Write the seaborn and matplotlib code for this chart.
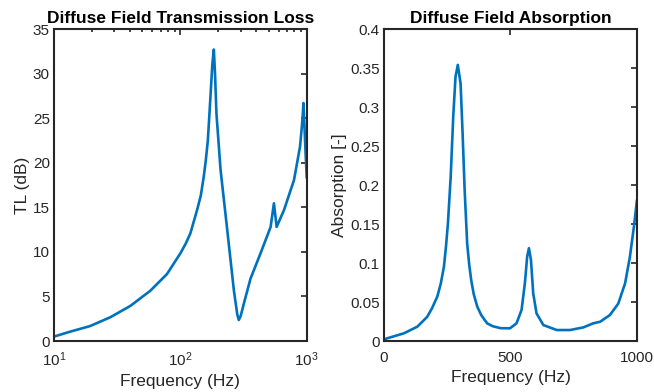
import numpy as np
import pandas as pd
import matplotlib
matplotlib.use("Agg")
import matplotlib.pyplot as plt
import seaborn as sns

# Transmission loss
tl_freq = [10, 13.4, 19.3, 27.8, 40.1, 57.8, 78.4, 100, 110, 120, 135.6, 145, 153,
           159, 165, 173, 179, 184, 188, 193, 208, 235, 265, 282, 290, 300, 318,
           359, 431, 518, 550, 578, 661, 793, 885, 925, 942, 960, 980, 1000]
tl_db = [0.5, 1.05, 1.68, 2.66, 3.93, 5.64, 7.52, 9.84, 10.9, 12.08, 14.7, 16.3, 18.4,
         20.3, 22.5, 27.4, 31.0, 32.7, 30.0, 25.5, 19.2, 12.45, 5.7, 3.0, 2.36, 2.8,
         4.2, 7.0, 9.84, 12.8, 15.45, 12.8, 14.7, 18.06, 21.8, 24.8, 26.7, 24.0, 21.0,
         18.3]

# Absorption
abs_freq = [0, 13, 79, 132, 171, 190, 211, 225, 237, 245, 253, 264, 274, 283, 292,
            303, 311, 319, 329, 337, 345, 355, 369, 385, 408, 430, 461, 498, 524,
            544, 557, 566, 573, 581, 590, 603, 630, 683, 735, 788, 827, 854, 893,
            926, 953, 972, 988, 1000]
abs_coef = [0.002, 0.0035, 0.0099, 0.0184, 0.031, 0.042, 0.057, 0.074, 0.095, 0.12,
            0.151, 0.211, 0.288, 0.339, 0.354, 0.330, 0.266, 0.194, 0.125, 0.098,
            0.078, 0.060, 0.044, 0.033, 0.0227, 0.019, 0.0165, 0.0163, 0.0227, 0.040,
            0.074, 0.108, 0.119, 0.104, 0.061, 0.0355, 0.0205, 0.0141, 0.0141, 0.0175,
            0.0227, 0.0247, 0.0333, 0.048, 0.074, 0.108, 0.147, 0.181]

sns.set_style("white")
plt.rcParams['font.family'] = ['Liberation Sans', 'DejaVu Sans']
plt.rcParams['mathtext.fontset'] = 'custom'
plt.rcParams['mathtext.rm'] = 'Liberation Sans'
dark = '#262626'
blue = '#0072BD'

fig = plt.figure(figsize=(6.54, 3.92), dpi=100)
ax1 = fig.add_axes([0.0826, 0.130, 0.3864, 0.796])
ax2 = fig.add_axes([0.587, 0.130, 0.387, 0.796])

df_tl = pd.DataFrame({'f': tl_freq, 'tl': tl_db})
df_abs = pd.DataFrame({'f': abs_freq, 'a': abs_coef})

sns.lineplot(data=df_tl, x='f', y='tl', ax=ax1, color=blue, linewidth=1.9, sort=False)
sns.lineplot(data=df_abs, x='f', y='a', ax=ax2, color=blue, linewidth=1.9, sort=False)

ax1.set_xscale('log')
ax1.set_xlim(10, 1000)
ax1.set_ylim(0, 35)
ax1.set_yticks(np.arange(0, 36, 5))
ax1.set_title('Diffuse Field Transmission Loss', fontsize=12.5, fontweight='bold',
              color='black', pad=4)
ax1.set_xlabel('Frequency (Hz)', fontsize=12.5, color=dark, labelpad=3)
ax1.set_ylabel('TL (dB)', fontsize=12.5, color=dark, labelpad=2)

ax2.set_xlim(0, 1000)
ax2.set_ylim(0, 0.4)
ax2.set_xticks([0, 500, 1000])
ax2.set_yticks(np.arange(0, 0.41, 0.05))
ax2.set_yticklabels(['0', '0.05', '0.1', '0.15', '0.2', '0.25', '0.3', '0.35', '0.4'])
ax2.set_title('Diffuse Field Absorption', fontsize=12.5, fontweight='bold',
              color='black', pad=4)
ax2.set_xlabel('Frequency (Hz)', fontsize=12.5, color=dark, labelpad=4)
ax2.set_ylabel('Absorption [-]', fontsize=12.5, color=dark, labelpad=2)

for ax in (ax1, ax2):
    for sp in ax.spines.values():
        sp.set_visible(True)
        sp.set_color(dark)
        sp.set_linewidth(1.5)
    ax.tick_params(which='both', direction='in', top=True, right=True,
                   color=dark, labelcolor=dark, labelsize=11, width=1.2)
    ax.tick_params(which='major', length=4)
    ax.tick_params(axis='y', which='major', pad=3)
    ax.tick_params(axis='x', which='major', pad=7)
    ax.tick_params(which='minor', length=2.5)

fig.savefig('out.png', dpi=100)
